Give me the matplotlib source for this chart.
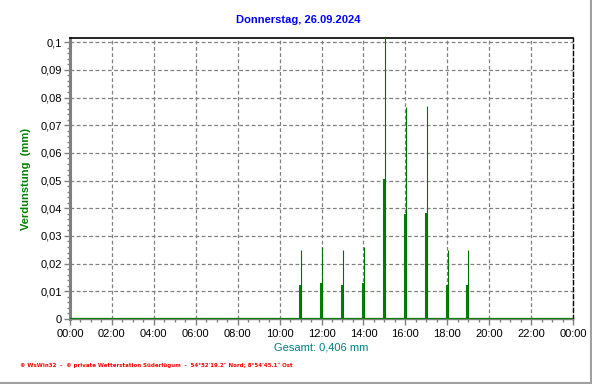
import matplotlib
matplotlib.use("Agg")
import matplotlib.pyplot as plt
from matplotlib.ticker import MultipleLocator, FuncFormatter
from matplotlib.lines import Line2D

# Data
hours = [11, 12, 13, 14, 15, 16, 17, 18, 19]
hourly_values = [0.025, 0.026, 0.025, 0.026, 0.102, 0.0764, 0.077, 0.025, 0.025]
sub_values = [0.0124, 0.0131, 0.0124, 0.0131, 0.0506, 0.038, 0.0384, 0.0124, 0.0124]
x_ticks = list(range(0, 25, 2))
x_labels = ["00:00", "02:00", "04:00", "06:00", "08:00", "10:00", "12:00",
            "14:00", "16:00", "18:00", "20:00", "22:00", "00:00"]
title = "Donnerstag, 26.09.2024"
ylabel = "Verdunstung  (mm)"
total_text = "Gesamt: 0,406 mm"
footer = "\u00a9 WsWin32  -  \u00a9 private Wetterstation S\u00fcderl\u00fcgum  -  54\u00b052'19.2\" Nord; 8\u00b054'45.1\" Ost"

plt.rcParams['font.family'] = ['Liberation Sans', 'DejaVu Sans']

W, H = 592, 384
fig = plt.figure(figsize=(W / 100, H / 100), dpi=100)
L, R, T, B = 70, 573, 38, 319
ax = fig.add_axes([L / W, 1 - B / H, (R - L) / W, (B - T) / H])

ax.set_xlim(0, 24)
ax.set_ylim(0, 0.1015)

# grid
ax.set_xticks(x_ticks)
ax.set_xticklabels(x_labels)
ax.xaxis.set_minor_locator(MultipleLocator(0.5))
ax.yaxis.set_major_locator(MultipleLocator(0.01))
ax.yaxis.set_minor_locator(MultipleLocator(0.002))
ax.yaxis.set_major_formatter(FuncFormatter(lambda v, p: "0" if abs(v) < 1e-9 else ("%.2f" % v).rstrip("0").replace(".", ",")))
ax.grid(True, which="major", color="#808080", linestyle=(0, (3, 2)), linewidth=0.9)
ax.set_axisbelow(True)

# zero line
ax.axhline(0, color="#008000", linewidth=1.6, zorder=3)

# bars
ax.vlines([h - 0.035 for h in hours], 0, sub_values, color="#008000", linewidth=1.5, zorder=4)
ax.vlines([h + 0.012 for h in hours], 0, hourly_values, color="#007000", linewidth=0.8, zorder=4)

# spines
ax.spines["left"].set_color("#808080")
ax.spines["left"].set_linewidth(2.2)
ax.spines["bottom"].set_color("#808080")
ax.spines["bottom"].set_linewidth(1.0)
ax.spines["top"].set_color("black")
ax.spines["top"].set_linewidth(1.2)
ax.spines["right"].set_color("black")
ax.spines["right"].set_linestyle((0, (3, 2)))
ax.spines["right"].set_linewidth(1.0)

ax.tick_params(axis="both", which="major", colors="#808080", labelcolor="black",
               labelsize=8, length=4, width=1)
ax.tick_params(axis="both", which="minor", colors="#808080", length=2, width=1)
ax.tick_params(axis="x", pad=3)
ax.tick_params(axis="y", pad=2)

fig.text(298 / W, 1 - 20 / H, title, color="#0000ff", fontsize=8,
         fontweight="bold", ha="center", va="center")
fig.text(26 / W, 1 - 179 / H, ylabel, color="#008000", fontsize=8,
         fontweight="bold", rotation=90, ha="center", va="center")
fig.text((L + R) / 2 / W, 1 - 348 / H, total_text, color="#008080", fontsize=8,
         ha="center", va="center")
fig.text(20 / W, 1 - 365 / H, footer, color="#ff0000", fontsize=3.95,
         fontweight="bold", ha="left", va="center", family=["DejaVu Sans"])

# figure frame (right and bottom)
fig.add_artist(Line2D([591 / W, 591 / W], [0, 1], transform=fig.transFigure, color="#a0a0a0", linewidth=1.5))
fig.add_artist(Line2D([0, 1], [1.5 / H, 1.5 / H], transform=fig.transFigure, color="#a0a0a0", linewidth=1.5))

fig.savefig("out.png", dpi=100)
